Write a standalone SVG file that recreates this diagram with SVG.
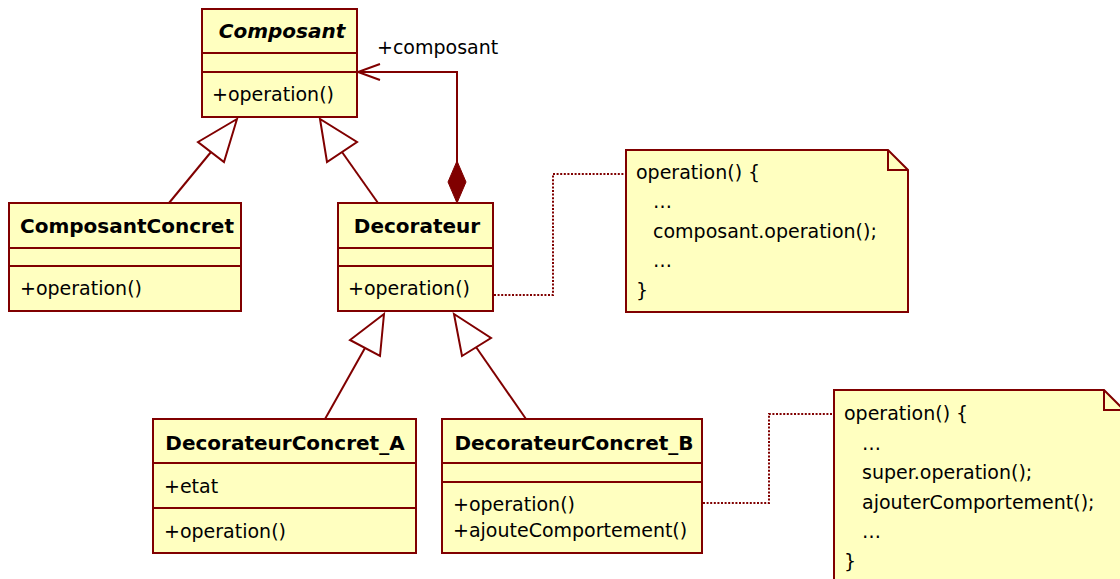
<svg xmlns="http://www.w3.org/2000/svg" width="1120" height="579" viewBox="0 0 1120 579">
<style>
.box{fill:#ffffc0;stroke:#800000;stroke-width:2}
.ln{fill:none;stroke:#800000;stroke-width:2}
.tri{fill:#ffffff;stroke:#800000;stroke-width:2;stroke-linejoin:miter}
.dot{fill:none;stroke:#800000;stroke-width:2;stroke-dasharray:2 1.6}
text{font-family:"DejaVu Sans","Liberation Sans",sans-serif;font-size:19px;fill:#000}
.t{font-weight:bold;font-size:20px;text-anchor:middle}
.it{font-style:italic}
</style>
<rect width="1120" height="579" fill="#ffffff"/>
<g id="connectors">
<line class="ln" x1="211" y1="152" x2="169" y2="203"/>
<polygon class="tri" points="237,119 198,142 224,162"/>
<line class="ln" x1="342" y1="152" x2="378" y2="203"/>
<polygon class="tri" points="320,119 327,162 357,142"/>
<line class="ln" x1="365" y1="348" x2="325" y2="419"/>
<polygon class="tri" points="384,314 350,340 380,356"/>
<line class="ln" x1="476" y1="347" x2="526" y2="419"/>
<polygon class="tri" points="454,314 491,338 462,356"/>
<polyline class="ln" points="457,182 457,72 358,72"/>
<polyline class="ln" points="380,64 358,72 380,80"/>
<polygon points="457,161 466,182 457,203 448,182" fill="#800000" stroke="#800000" stroke-width="1"/>
<text x="377" y="54">+composant</text>
<polyline class="dot" points="494,295 553,295 553,174 626,174"/>
<polyline class="dot" points="703,503 769,503 769,414 834,414"/>
</g>
<g id="Composant">
<rect class="box" x="202" y="9" width="155" height="108"/>
<line class="ln" x1="202" y1="53" x2="358" y2="53"/>
<line class="ln" x1="202" y1="72" x2="358" y2="72"/>
<text class="t it" x="282" y="38">Composant</text>
<text x="212" y="101">+operation()</text>
</g>
<g id="ComposantConcret">
<rect class="box" x="9" y="203" width="232" height="108"/>
<line class="ln" x1="9" y1="248" x2="242" y2="248"/>
<line class="ln" x1="9" y1="266" x2="242" y2="266"/>
<text class="t" x="127" y="233">ComposantConcret</text>
<text x="20" y="295">+operation()</text>
</g>
<g id="Decorateur">
<rect class="box" x="338" y="203" width="155" height="108"/>
<line class="ln" x1="338" y1="248" x2="494" y2="248"/>
<line class="ln" x1="338" y1="266" x2="494" y2="266"/>
<text class="t" x="417" y="233">Decorateur</text>
<text x="348" y="295">+operation()</text>
</g>
<g id="DecorateurConcret_A">
<rect class="box" x="153" y="419" width="263" height="134"/>
<line class="ln" x1="153" y1="463" x2="417" y2="463"/>
<line class="ln" x1="153" y1="508" x2="417" y2="508"/>
<text class="t" x="285" y="450">DecorateurConcret_A</text>
<text x="164" y="493">+etat</text>
<text x="164" y="538">+operation()</text>
</g>
<g id="DecorateurConcret_B">
<rect class="box" x="442" y="419" width="260" height="134"/>
<line class="ln" x1="442" y1="463" x2="703" y2="463"/>
<line class="ln" x1="442" y1="482" x2="703" y2="482"/>
<text class="t" x="574" y="450">DecorateurConcret_B</text>
<text x="453" y="511">+operation()</text>
<text x="453" y="537">+ajouteComportement()</text>
</g>
<g id="note1">
<path class="box" d="M626,150 H888 L908,170 V312 H626 Z"/>
<path class="ln" d="M888,150 V170 H908"/>
<text x="636" y="179">operation() {</text>
<text x="653" y="208">…</text>
<text x="653" y="238">composant.operation();</text>
<text x="653" y="267">…</text>
<text x="636" y="297">}</text>
</g>
<g id="note2">
<path class="box" d="M834,390 H1104 L1124,410 V590 H834 Z"/>
<path class="ln" d="M1104,390 V410 H1124"/>
<text x="844" y="420">operation() {</text>
<text x="862" y="450">…</text>
<text x="862" y="479">super.operation();</text>
<text x="862" y="509">ajouterComportement();</text>
<text x="862" y="538">…</text>
<text x="844" y="568">}</text>
</g>
</svg>
